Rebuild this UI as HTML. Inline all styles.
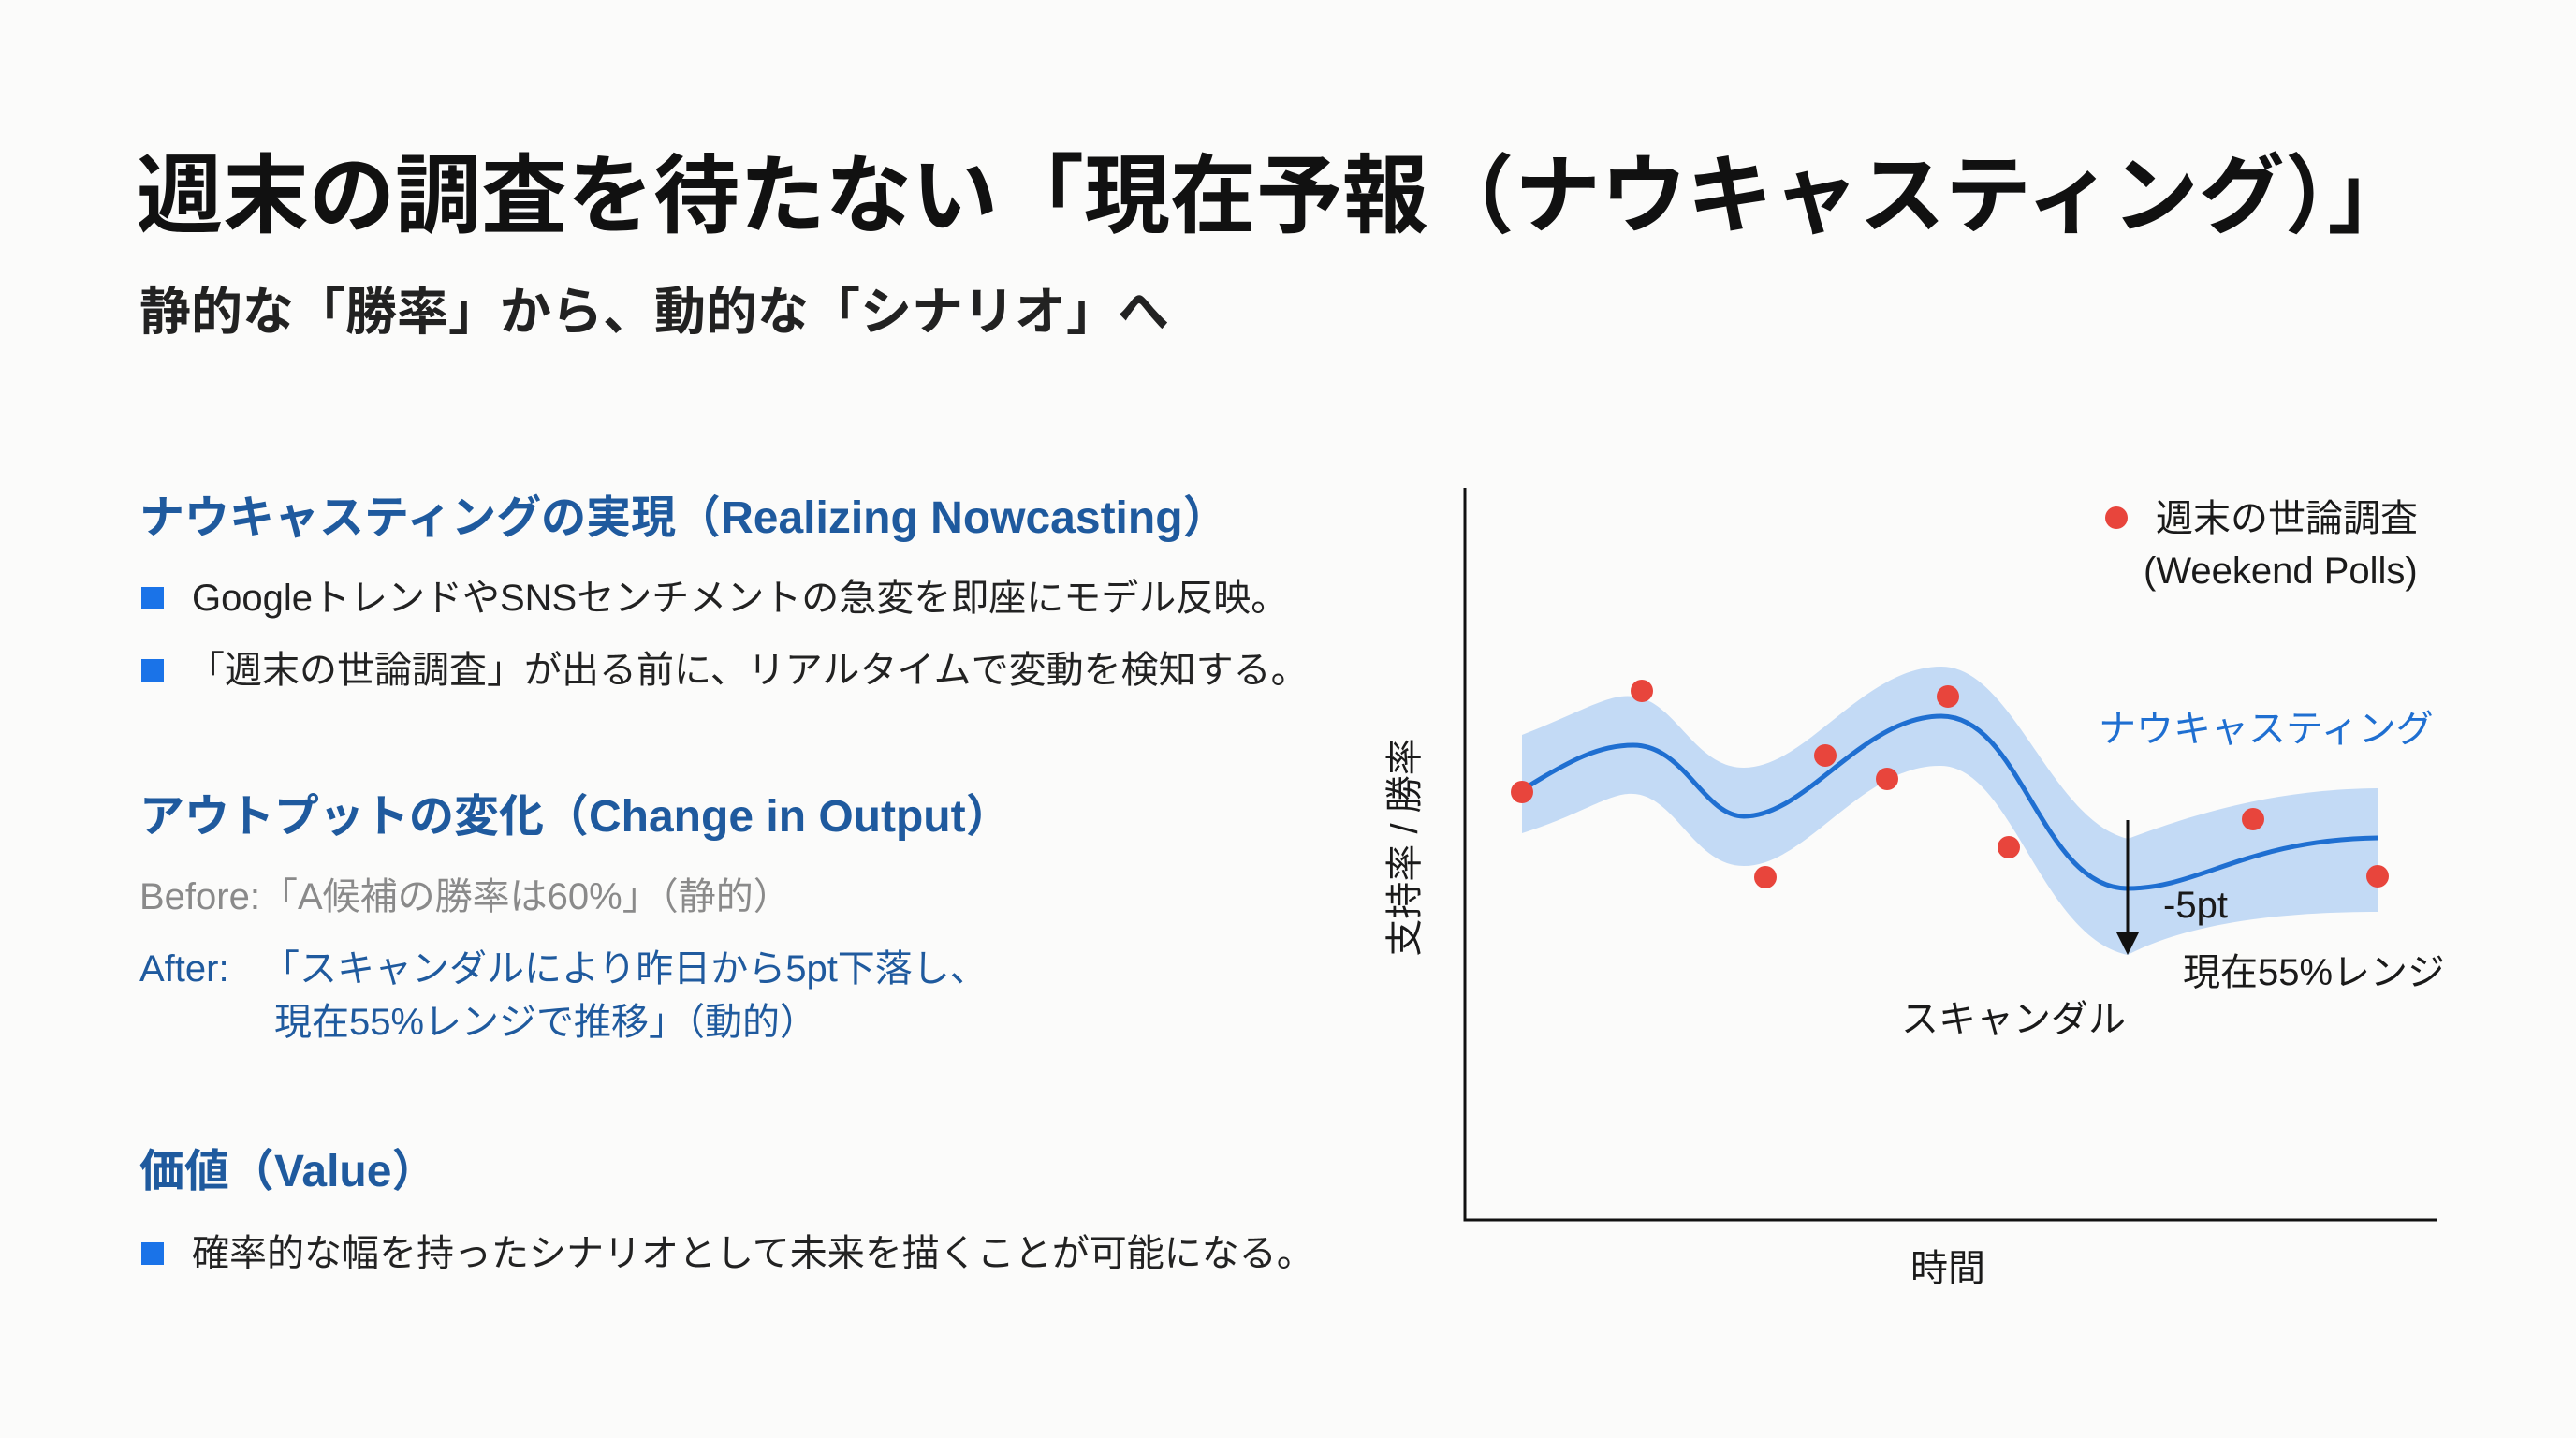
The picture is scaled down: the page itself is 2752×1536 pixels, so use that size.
<!DOCTYPE html>
<html><head><meta charset="utf-8"><style>
html,body{margin:0;padding:0;background:#fbfbfa;}
body{width:2752px;height:1536px;position:relative;overflow:hidden;font-family:"Liberation Sans","Noto Sans CJK JP",sans-serif;color:#1a1a1a;}
.t{position:absolute;white-space:nowrap;line-height:1;}
.h{color:#1f5a9e;font-weight:bold;font-size:48px;}
.b{font-size:40px;color:#222;}
.sq{position:absolute;width:24px;height:24px;background:#1a73e8;}
</style></head><body>
<div class="t" style="left:146px;top:164px;font-size:92px;font-weight:bold;color:#111;">週末の調査を待たない「現在予報（ナウキャスティング）」</div>
<div class="t" style="left:149px;top:306px;font-size:55px;font-weight:bold;color:#222;">静的な「勝率」から、動的な「シナリオ」へ</div>

<div class="t h" style="left:149px;top:530px;">ナウキャスティングの実現（Realizing Nowcasting）</div>
<div class="sq" style="left:151px;top:627px;"></div>
<div class="t b" style="left:205px;top:619px;">GoogleトレンドやSNSセンチメントの急変を即座にモデル反映。</div>
<div class="sq" style="left:151px;top:704px;"></div>
<div class="t b" style="left:200px;top:696px;">「週末の世論調査」が出る前に、リアルタイムで変動を検知する。</div>

<div class="t h" style="left:149px;top:849px;">アウトプットの変化（Change in Output）</div>
<div class="t b" style="left:149px;top:938px;color:#8a8a8a;">Before:「A候補の勝率は60%」（静的）</div>
<div class="t b" style="left:149px;top:1015px;color:#1f5a9e;">After:</div>
<div class="t b" style="left:280px;top:1015px;color:#1f5a9e;">「スキャンダルにより昨日から5pt下落し、</div>
<div class="t b" style="left:293px;top:1072px;color:#1f5a9e;">現在55%レンジで推移」（動的）</div>

<div class="t h" style="left:149px;top:1228px;">価値（Value）</div>
<div class="sq" style="left:151px;top:1327px;"></div>
<div class="t b" style="left:205px;top:1319px;">確率的な幅を持ったシナリオとして未来を描くことが可能になる。</div>

<svg width="2752" height="1536" style="position:absolute;left:0;top:0" xmlns="http://www.w3.org/2000/svg">
<path d="M1626,785 C1690,760 1720,740 1745,744 C1790,748 1810,820 1863,820 C1930,820 1990,712 2074,712 C2150,712 2190,875 2273,896 C2330,875 2420,843 2540,842 L2540,974 C2420,974 2330,990 2273,1020 C2180,1000 2150,820 2074,818 C1990,816 1930,925 1863,925 C1810,925 1790,850 1745,848 C1720,846 1690,870 1626,890 Z" fill="#b9d4f3" opacity="0.85"/>
<path d="M1626,844 C1680,810 1710,796 1745,796 C1800,796 1820,872 1863,872 C1930,872 1990,765 2074,765 C2160,765 2180,949 2273,949 C2350,949 2400,897 2540,895" fill="none" stroke="#1f6fd1" stroke-width="5"/>
<g fill="#e8453c">
<circle cx="1626" cy="846" r="12"/><circle cx="1754" cy="738" r="12"/><circle cx="1886" cy="937" r="12"/>
<circle cx="1950" cy="807" r="12"/><circle cx="2016" cy="832" r="12"/><circle cx="2081" cy="744" r="12"/>
<circle cx="2146" cy="905" r="12"/><circle cx="2407" cy="875" r="12"/><circle cx="2540" cy="936" r="12"/>
<circle cx="2261" cy="553" r="12"/>
</g>
<line x1="2273" y1="876" x2="2273" y2="1000" stroke="#111" stroke-width="3"/>
<path d="M2261,996 L2285,996 L2273,1020 Z" fill="#111"/>
<path d="M1565,521 L1565,1303 L2604,1303" fill="none" stroke="#111" stroke-width="3"/>
<g font-family="Liberation Sans, Noto Sans CJK JP, sans-serif" font-size="40" fill="#1a1a1a">
<text x="2303" y="567">週末の世論調査</text>
<text x="2290" y="623">(Weekend Polls)</text>
<text x="2242" y="792" fill="#1f6fd1">ナウキャスティング</text>
<text x="2311" y="980">-5pt</text>
<text x="2332" y="1052">現在55%レンジ</text>
<text x="2031" y="1102">スキャンダル</text>
<text x="2081" y="1368" text-anchor="middle">時間</text>
<text transform="translate(1514,905) rotate(-90)" text-anchor="middle">支持率 / 勝率</text>
</g>
</svg>
</body></html>
